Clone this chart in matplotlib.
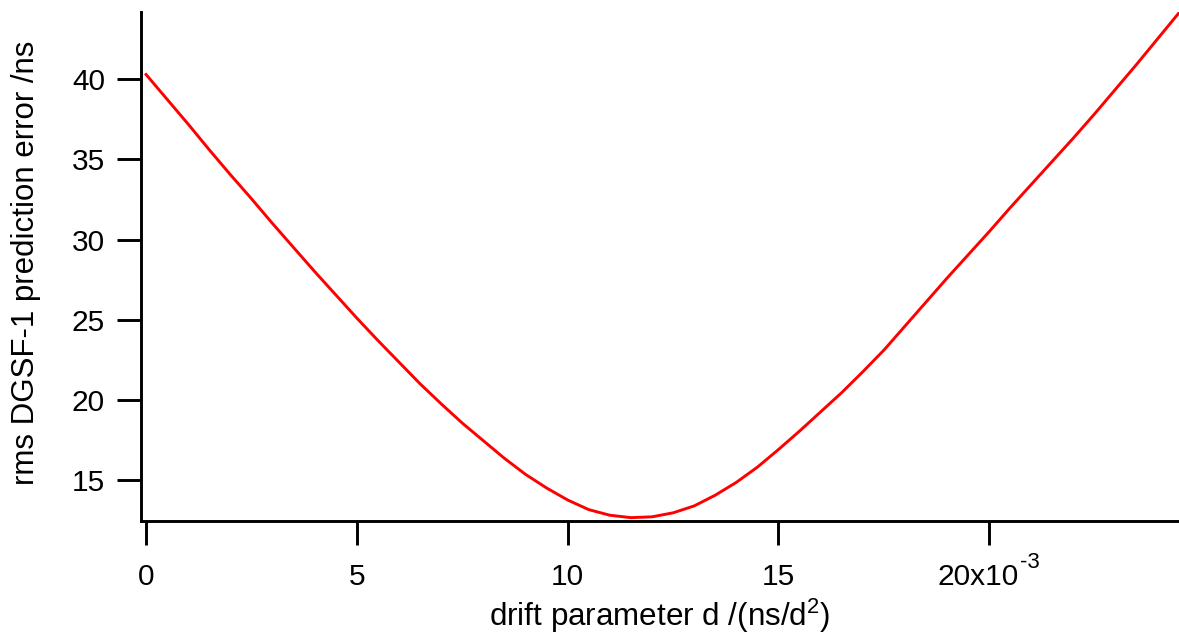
import matplotlib
matplotlib.use("Agg")
import matplotlib.pyplot as plt
import matplotlib.transforms as mtransforms
import numpy as np

# drift parameter d in units of 1e-3 ns/d^2
drift = [0.0, 0.5, 1.0, 1.5, 2.0, 2.5, 3.0, 3.5, 4.0, 4.5,
         5.0, 5.5, 6.0, 6.5, 7.0, 7.5, 8.0, 8.5, 9.0, 9.5,
         10.0, 10.5, 11.0, 11.5, 12.0, 12.5, 13.0, 13.5, 14.0, 14.5,
         15.0, 15.5, 16.0, 16.5, 17.0, 17.5, 18.0, 18.5, 19.0, 19.5,
         20.0, 20.5, 21.0, 21.5, 22.0, 22.5, 23.0, 23.5, 24.0, 24.5]
rms_error = [40.3, 38.75, 37.2, 35.6, 34.05, 32.55, 31.0, 29.5, 28.0, 26.55,
             25.1, 23.7, 22.35, 21.0, 19.75, 18.55, 17.45, 16.35, 15.35, 14.5,
             13.75, 13.15, 12.8, 12.65, 12.7, 12.95, 13.38, 14.05, 14.85, 15.8,
             16.9, 18.05, 19.25, 20.45, 21.75, 23.1, 24.6, 26.1, 27.6, 29.05,
             30.5, 32.0, 33.45, 34.9, 36.35, 37.85, 39.4, 40.95, 42.55, 44.15]

x_ticks = [0, 5, 10, 15, 20]
x_tick_labels = ["0", "5", "10", "15", "20x10"]
y_ticks = [15, 20, 25, 30, 35, 40]

plt.rcParams['font.family'] = ['Liberation Sans', 'DejaVu Sans']
plt.rcParams['mathtext.default'] = 'regular'

W, H = 1179, 640
fig = plt.figure(figsize=(W / 100, H / 100), dpi=100)
ax = fig.add_axes([141 / W, (H - 521) / H, (W - 141) / W, (521 - 12) / H])

x = np.array(drift) * 1e-3
ax.plot(x, rms_error, color='#ff0000', lw=2.1, solid_joinstyle='miter')

ax.set_xlim(-0.12e-3, 24.5e-3)
ax.set_ylim(12.44, 44.2)

for s in ['top', 'right']:
    ax.spines[s].set_visible(False)
for s in ['left', 'bottom']:
    ax.spines[s].set_linewidth(2.1)

ax.set_xticks(np.array(x_ticks) * 1e-3)
ax.set_xticklabels(x_tick_labels)
ax.set_yticks(y_ticks)
ax.set_yticklabels([str(v) for v in y_ticks])
ax.tick_params(axis='both', direction='out', length=17, width=2.1, labelsize=21.5)
ax.tick_params(axis='x', pad=13)
ax.tick_params(axis='y', pad=9)

# shift the "20x10" label so that label + exponent is centred on the tick
lab = ax.get_xticklabels()[-1]
lab.set_transform(lab.get_transform() + mtransforms.ScaledTranslation(-11 / 100, 0, fig.dpi_scale_trans))
trans = mtransforms.blended_transform_factory(ax.transData, fig.transFigure)
ax.text(20e-3, 1 - 552 / H, "-3", transform=trans + mtransforms.ScaledTranslation(31 / 100, 0, fig.dpi_scale_trans),
        fontsize=16, ha='left', va='top')

ax.set_xlabel("drift parameter d /(ns/d$^{2}$)", fontsize=22.6)
ax.xaxis.set_label_coords(0.5, -(597 - 521) / (521 - 12))
ax.xaxis.label.set_va('top')
ax.set_ylabel("rms DGSF-1 prediction error /ns", fontsize=22.5)
ax.yaxis.set_label_coords(-(141 - 41) / (W - 141), (521 - 263) / (521 - 12))

fig.savefig("out.png", dpi=100)
